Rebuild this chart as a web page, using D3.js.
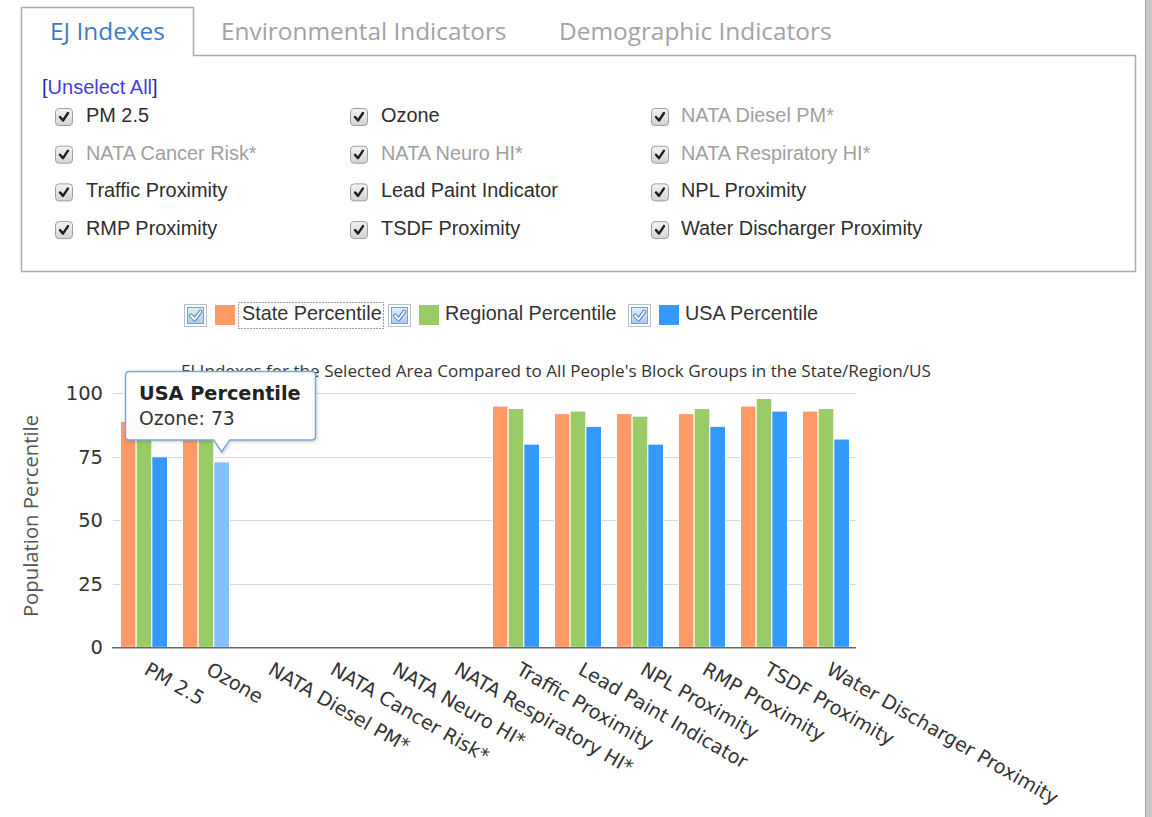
<!DOCTYPE html>
<html><head><meta charset="utf-8">
<script src="https://cdn.jsdelivr.net/npm/d3@7"></script>
<style>
html,body{margin:0;padding:0;background:#fff;overflow:hidden}
svg{display:block}
</style></head><body>
<svg id="c" width="1152" height="817"></svg>
<script>
// ---------- data ----------
const tabs = ["EJ Indexes", "Environmental Indicators", "Demographic Indicators"];
const categories = ["PM 2.5", "Ozone", "NATA Diesel PM*", "NATA Cancer Risk*", "NATA Neuro HI*",
  "NATA Respiratory HI*", "Traffic Proximity", "Lead Paint Indicator", "NPL Proximity",
  "RMP Proximity", "TSDF Proximity", "Water Discharger Proximity"];
const seriesNames = ["State Percentile", "Regional Percentile", "USA Percentile"];
const stateValues    = [89, 84, null, null, null, null, 95, 92, 92, 92, 95, 93];
const regionalValues = [88, 86, null, null, null, null, 94, 93, 91, 94, 98, 94];
const usaValues      = [75, 73, null, null, null, null, 80, 87, 80, 87, 93, 82];
const yTicks = [0, 25, 50, 75, 100];
const chartTitle = "EJ Indexes for the Selected Area Compared to All People's Block Groups in the State/Region/US";
const yAxisTitle = "Population Percentile";
const unselectLabel = "[Unselect All]";
const hoverSeries = 2, hoverCategory = "Ozone";

// ---------- styles ----------
const colors = ["#FF9966", "#99CC66", "#3399FF"];
const hoverColor = "#85C1FF";
const uiFont = "'Liberation Sans', Arial, sans-serif";
const tabFont = "'Open Sans', sans-serif";
const axisFont = "'DejaVu Sans', Verdana, sans-serif";

const svg = d3.select("#c");

// right scrollbar edge
svg.append("rect").attr("x", 1145).attr("y", 0).attr("width", 7).attr("height", 817).attr("fill", "#c8c8c8");
svg.append("line").attr("x1", 1145.5).attr("x2", 1145.5).attr("y1", 0).attr("y2", 817).attr("stroke", "#a9a9a9");

// ---------- defs ----------
const defs = svg.append("defs");
const gg = defs.append("linearGradient").attr("id", "cbGrad").attr("x1", 0).attr("y1", 0).attr("x2", 0).attr("y2", 1);
gg.append("stop").attr("offset", "0%").attr("stop-color", "#f4f4f4");
gg.append("stop").attr("offset", "100%").attr("stop-color", "#d3d3d3");
const bg = defs.append("linearGradient").attr("id", "lgGrad").attr("x1", 0).attr("y1", 0).attr("x2", 0).attr("y2", 1);
bg.append("stop").attr("offset", "0%").attr("stop-color", "#e4eef9");
bg.append("stop").attr("offset", "100%").attr("stop-color", "#aecbe9");
const f = defs.append("filter").attr("id", "shadow").attr("x", "-10%").attr("y", "-10%").attr("width", "130%").attr("height", "140%");
f.append("feDropShadow").attr("dx", 1).attr("dy", 1.5).attr("stdDeviation", 1.5).attr("flood-color", "#000").attr("flood-opacity", 0.18);

// ---------- tabs + panel ----------
svg.append("path")
  .attr("d", "M21.5,271.5 V7.5 H193.5 V55.5 H1135.5 V271.5 Z")
  .attr("fill", "none").attr("stroke", "#ababab").attr("stroke-width", 1.5);

const tabX = [50, 221, 559];
svg.selectAll("text.tab").data(tabs).join("text")
  .attr("class", "tab")
  .attr("x", (d, i) => tabX[i]).attr("y", 40)
  .attr("font-family", tabFont).attr("font-size", 24.4)
  .attr("fill", (d, i) => i === 0 ? "#3b7cc7" : "#a3a3a3")
  .text(d => d);

// Unselect all
const us = svg.append("text").attr("x", 42).attr("y", 94)
  .attr("font-family", uiFont).attr("font-size", 20);
us.append("tspan").attr("fill", "#2a2a9a").text("[");
us.append("tspan").attr("fill", "#3f3fe0").text(unselectLabel.slice(1, -1));
us.append("tspan").attr("fill", "#2a2a9a").text("]");

function grayCheckbox(g, x, y) {
  g.append("rect").attr("x", x + 0.5).attr("y", y + 0.5).attr("width", 17).attr("height", 17)
    .attr("rx", 3.5).attr("fill", "url(#cbGrad)").attr("stroke", "#a0a0a0");
  g.append("path").attr("d", `M${x + 5},${y + 9} L${x + 8},${y + 12.5} L${x + 13},${y + 5}`)
    .attr("fill", "none").attr("stroke", "#1e1e1e").attr("stroke-width", 2.4)
    .attr("stroke-linecap", "round").attr("stroke-linejoin", "round");
}

const colCb = [55, 350, 651], colLabel = [86, 381, 681];
const panel = svg.append("g");
categories.forEach((c, i) => {
  const col = i % 3, row = Math.floor(i / 3);
  const base = 122 + row * 37.7;
  grayCheckbox(panel, colCb[col], base - 14);
  const disabled = stateValues[i] === null;
  panel.append("text").attr("x", colLabel[col]).attr("y", base)
    .attr("font-family", uiFont).attr("font-size", 19.9)
    .attr("fill", disabled ? "#a0a0a0" : "#2e2e2e").text(c);
});

// ---------- legend ----------
const lgCb = [184, 388, 628], lgSw = [215, 419, 659], lgTx = [242, 445, 685];
const legend = svg.append("g");
seriesNames.forEach((s, i) => {
  const cx = lgCb[i], cy = 304;
  legend.append("rect").attr("x", cx + 0.5).attr("y", cy + 0.5).attr("width", 22).attr("height", 22)
    .attr("fill", "#fff").attr("stroke", "#b4c0cc");
  legend.append("rect").attr("x", cx + 3.5).attr("y", cy + 3.5).attr("width", 16).attr("height", 16)
    .attr("fill", "url(#lgGrad)").attr("stroke", "#7f9fc2");
  legend.append("path").attr("d", `M${cx + 7},${cy + 11.5} L${cx + 10.5},${cy + 15.5} L${cx + 16.5},${cy + 7.5}`)
    .attr("fill", "none").attr("stroke", "#4f82b9").attr("stroke-width", 4).attr("stroke-linecap", "round")
    .attr("stroke-linejoin", "round");
  legend.append("path").attr("d", `M${cx + 7},${cy + 11.5} L${cx + 10.5},${cy + 15.5} L${cx + 16.5},${cy + 7.5}`)
    .attr("fill", "none").attr("stroke", "#fff").attr("stroke-width", 2).attr("stroke-linecap", "round")
    .attr("stroke-linejoin", "round");
  legend.append("rect").attr("x", lgSw[i]).attr("y", 305).attr("width", 20).attr("height", 20).attr("fill", colors[i]);
  legend.append("text").attr("x", lgTx[i]).attr("y", 320)
    .attr("font-family", uiFont).attr("font-size", 19.8).attr("fill", "#333").text(s);
});
legend.append("rect").attr("x", 238.5).attr("y", 302.5).attr("width", 145).attr("height", 26)
  .attr("fill", "none").attr("stroke", "#444").attr("stroke-dasharray", "1,2");

// ---------- chart ----------
const x = d3.scaleBand().domain(categories).range([113, 857]).paddingInner(0.24).paddingOuter(0.12);
const xs = d3.scaleBand().domain([0, 1, 2]).range([0, x.bandwidth()]);
const y = d3.scaleLinear().domain([0, 100]).range([647.3, 393.3]);

const chart = svg.append("g");
chart.append("text").attr("x", 556).attr("y", 377).attr("text-anchor", "middle")
  .attr("font-family", tabFont).attr("font-size", 17.1).attr("fill", "#333").text(chartTitle);

chart.selectAll("line.grid").data(yTicks.filter(t => t > 0)).join("line")
  .attr("class", "grid")
  .attr("x1", 113).attr("x2", 856)
  .attr("y1", d => Math.round(y(d)) + 0.5).attr("y2", d => Math.round(y(d)) + 0.5)
  .attr("stroke", "#d9d9d9");

const yAxis = d3.axisLeft(y).tickValues(yTicks).tickSize(0).tickPadding(10);
const ya = chart.append("g").attr("transform", "translate(113,0)").call(yAxis);
ya.select(".domain").remove();
ya.selectAll("text").attr("font-family", axisFont).attr("font-size", 19.5).attr("fill", "#333");

chart.append("text")
  .attr("transform", "translate(37.5,516) rotate(-90)")
  .attr("text-anchor", "middle")
  .attr("font-family", tabFont).attr("font-size", 20.3).attr("fill", "#555").text(yAxisTitle);

const seriesValues = [stateValues, regionalValues, usaValues];
seriesValues.forEach((vals, si) => {
  chart.append("g").selectAll("rect").data(categories.map((c, i) => ({ c, v: vals[i] })).filter(d => d.v !== null))
    .join("rect")
    .attr("x", d => x(d.c) + xs(si))
    .attr("y", d => y(d.v))
    .attr("width", xs.bandwidth())
    .attr("height", d => y(0) - y(d.v))
    .attr("fill", d => (si === hoverSeries && d.c === hoverCategory) ? hoverColor : colors[si])
    .attr("stroke", "#fff").attr("stroke-width", 1);
});

chart.append("line").attr("x1", 112).attr("x2", 856).attr("y1", y(0) + 0.5).attr("y2", y(0) + 0.5)
  .attr("stroke", "#666").attr("stroke-width", 1.6);

const xAxis = d3.axisBottom(x).tickSize(0).tickPadding(0);
const xa = chart.append("g").attr("transform", "translate(0," + y(0) + ")").call(xAxis);
xa.select(".domain").remove();
xa.selectAll("text")
  .attr("font-family", axisFont).attr("font-size", 19.3).attr("fill", "#333")
  .attr("text-anchor", "start").attr("dy", 0).attr("y", 0)
  .attr("transform", "translate(-1,26) rotate(30)");

// ---------- tooltip ----------
const hv = seriesValues[hoverSeries][categories.indexOf(hoverCategory)];
const tipX = x(hoverCategory) + xs(hoverSeries) + xs.bandwidth() / 2;
const tipY = y(hv) - 10;
const bx0 = 125.5, bx1 = 315.5, by0 = 371.5, by1 = tipY - 12, r = 4;
const tp = `M${bx0 + r},${by0} H${bx1 - r} Q${bx1},${by0} ${bx1},${by0 + r} V${by1 - r} Q${bx1},${by1} ${bx1 - r},${by1}
  H${tipX + 8} L${tipX},${tipY} L${tipX - 8},${by1} H${bx0 + r} Q${bx0},${by1} ${bx0},${by1 - r} V${by0 + r} Q${bx0},${by0} ${bx0 + r},${by0} Z`;
const tip = svg.append("g");
tip.append("path").attr("d", tp).attr("fill", "#fff").attr("fill-opacity", 0.97)
  .attr("stroke", "#7ea6d4").attr("stroke-width", 1.5).attr("filter", "url(#shadow)");
tip.append("text").attr("x", 139).attr("y", 400).attr("font-family", axisFont).attr("font-size", 19.3)
  .attr("font-weight", "bold").attr("fill", "#222").text(seriesNames[hoverSeries]);
tip.append("text").attr("x", 139).attr("y", 425).attr("font-family", axisFont).attr("font-size", 18.8)
  .attr("fill", "#333").text(hoverCategory + ": " + hv);
</script>
</body></html>
